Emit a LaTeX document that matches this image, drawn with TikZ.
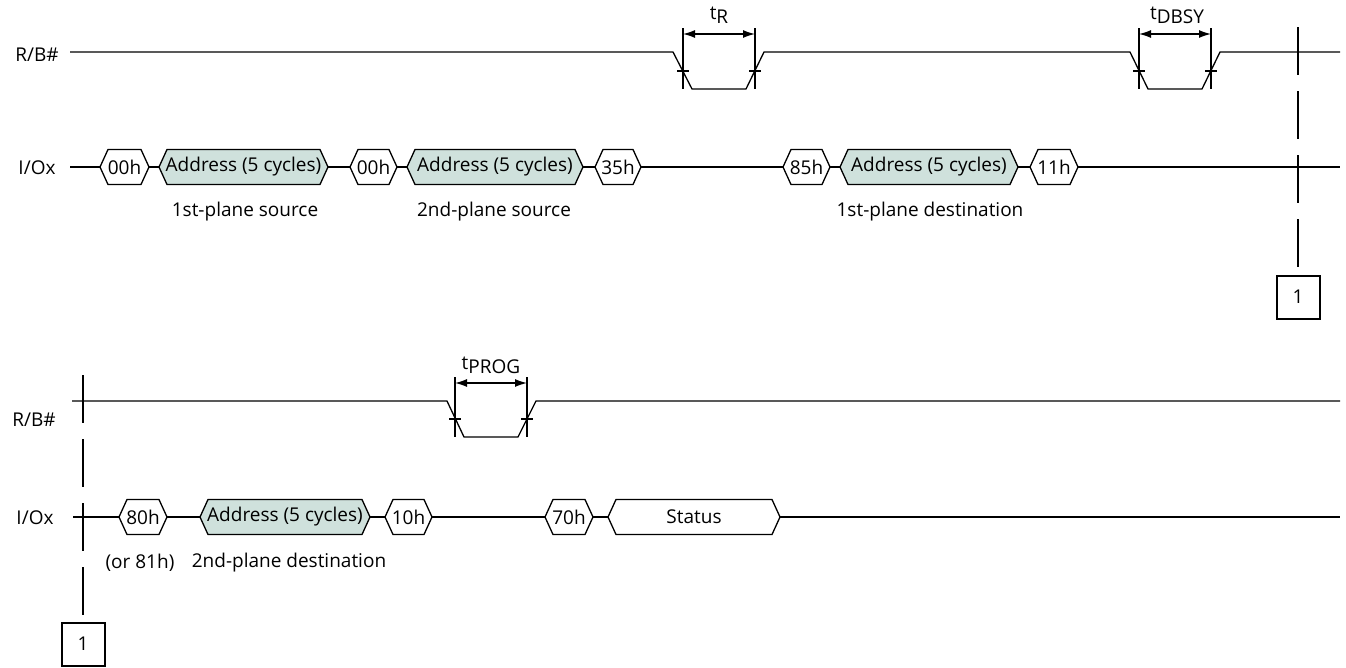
\documentclass[tikz,border=0pt]{standalone}
\usepackage{fontspec}
\setmainfont{Open Sans}
\usetikzlibrary{arrows.meta}
\definecolor{addrfill}{HTML}{CFE1DC}
\newcommand{\hexbus}[6]{% name, x1, x2, y, fill, text
  \draw[fill=#5] (#2,#4) -- (#2+8,#4-17.5) -- (#3-8,#4-17.5) -- (#3,#4) -- (#3-8,#4+17.5) -- (#2+8,#4+17.5) -- cycle;
  \node[inner sep=0pt] (#1) at ({(#2+#3)/2},#4) {#6};
}
\tikzset{
  dimarrow/.style={{Latex[length=12pt,width=8pt]}-{Latex[length=12pt,width=8pt]}},
  refbox/.style={draw, line width=2pt, minimum size=43pt, inner sep=0pt},
  refline/.style={dash pattern=on 48pt off 16pt},
  siglabel/.style={inner sep=0pt},
}
\begin{document}
\begin{tikzpicture}[x=1pt,y=-1pt, font=\fontsize{19}{22}\selectfont, line width=1.3pt]
\useasboundingbox (0,0) rectangle (1346,667);
% ---------- top half ----------
\node[siglabel] (rb1) at (37,55) {R/B\#};
\node[siglabel] (io1) at (37,168) {I/Ox};
% R/B# waveform
\draw (70,52) -- (673,52) -- (692,89) -- (746,89) -- (764,52) -- (1130,52) -- (1148,89) -- (1202,89) -- (1220,52) -- (1340,52);
% tR
\coordinate (r1a) at (683,28); \coordinate (r1b) at (683,89);
\coordinate (r2a) at (755,28); \coordinate (r2b) at (755,89);
\draw (r1a) -- (r1b); \draw (r2a) -- (r2b);
\draw (677,71) -- (689,71); \draw (749,71) -- (761,71);
\coordinate (tra) at (683,34); \coordinate (trb) at (755,34);
\draw[dimarrow] (tra) -- (trb);
\node[siglabel] (tR) at (719,15) {t\raisebox{-0.4ex}{R}};
% tDBSY
\draw (1139,28) -- (1139,89); \draw (1211,28) -- (1211,89);
\draw (1133,71) -- (1145,71); \draw (1205,71) -- (1217,71);
\coordinate (tda) at (1139,34); \coordinate (tdb) at (1211,34);
\draw[dimarrow] (tda) -- (tdb);
\node[siglabel] (tD) at (1177,15) {t\raisebox{-0.4ex}{DBSY}};
% I/Ox bus
\draw (70,167) -- (1340,167);
\hexbus{h1}{100}{149}{167}{white}{00h}
\hexbus{h2}{159}{328}{167}{addrfill}{Address (5 cycles)}
\hexbus{h3}{350}{397}{167}{white}{00h}
\hexbus{h4}{407}{583}{167}{addrfill}{Address (5 cycles)}
\hexbus{h5}{595}{641}{167}{white}{35h}
\hexbus{h6}{783}{830}{167}{white}{85h}
\hexbus{h7}{840}{1018}{167}{addrfill}{Address (5 cycles)}
\hexbus{h8}{1030}{1078}{167}{white}{11h}
\node[siglabel] (l1) at (245,212) {1st-plane source};
\node[siglabel] (l2) at (494,212) {2nd-plane source};
\node[siglabel] (l3) at (930,212) {1st-plane destination};
% continuation marker
\node[refbox] (b1) at (1298,297) {1};
\coordinate (c1) at (1298,27);
\draw[refline] (c1) -- (b1.north);
% ---------- bottom half ----------
\node[siglabel] (rb2) at (34,420) {R/B\#};
\node[siglabel] (io2) at (35,518) {I/Ox};
\draw (72,401) -- (447,401) -- (464,437) -- (518,437) -- (536,401) -- (1340,401);
\draw (455,377) -- (455,437); \draw (527,377) -- (527,437);
\draw (449,419) -- (461,419); \draw (521,419) -- (533,419);
\coordinate (tpa) at (455,383); \coordinate (tpb) at (527,383);
\draw[dimarrow] (tpa) -- (tpb);
\node[siglabel] (tP) at (491,365) {t\raisebox{-0.4ex}{PROG}};
\draw (73,517) -- (1340,517);
\hexbus{g1}{119}{167}{517}{white}{80h}
\hexbus{g2}{200}{370}{517}{addrfill}{Address (5 cycles)}
\hexbus{g3}{385}{432}{517}{white}{10h}
\hexbus{g4}{545}{593}{517}{white}{70h}
\hexbus{g5}{608}{780}{517}{white}{Status}
\node[siglabel] (l4) at (140,563) {(or 81h)};
\node[siglabel] (l5) at (289,563) {2nd-plane destination};
\node[refbox] (b2) at (83,644) {1};
\coordinate (c2) at (83,375);
\draw[refline] (c2) -- (b2.north);
\end{tikzpicture}
\end{document}
